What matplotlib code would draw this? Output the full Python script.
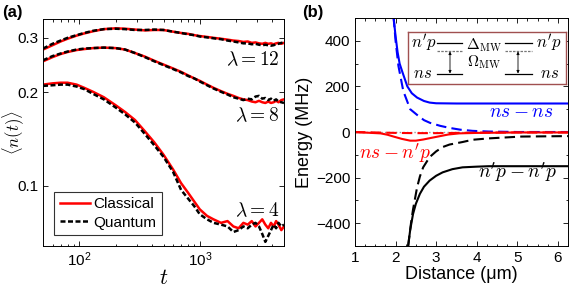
import numpy as np
import matplotlib
matplotlib.use("Agg")
import matplotlib.pyplot as plt

plt.rcParams['font.family'] = ['Liberation Sans', 'DejaVu Sans']
plt.rcParams['mathtext.fontset'] = 'cm'

# panel (a): <n(t)> vs t
t = [50, 60, 70, 80, 95, 110, 130, 160, 200, 240, 290, 350, 420, 500, 600, 700, 800, 900, 1000,
     1150, 1300, 1500, 1700, 1900, 2100, 2300, 2500, 2700, 2900, 3100, 3300, 3500, 3700, 3900,
     4100, 4300, 4500, 4750, 5000]
cl12 = [0.275, 0.284, 0.292, 0.298, 0.305, 0.310, 0.315, 0.320, 0.322, 0.321, 0.319, 0.317, 0.318,
        0.318, 0.314, 0.311, 0.309, 0.306, 0.304, 0.302, 0.300, 0.298, 0.296, 0.294, 0.293, 0.291,
        0.292, 0.289, 0.290, 0.288, 0.287, 0.289, 0.287, 0.288, 0.286, 0.288, 0.289, 0.287, 0.289]
qu12 = [0.277, 0.287, 0.294, 0.300, 0.306, 0.311, 0.316, 0.320, 0.321, 0.320, 0.318, 0.318, 0.319,
        0.318, 0.314, 0.311, 0.308, 0.306, 0.303, 0.301, 0.299, 0.297, 0.294, 0.292, 0.290, 0.288,
        0.288, 0.286, 0.287, 0.285, 0.284, 0.285, 0.284, 0.283, 0.284, 0.286, 0.287, 0.289, 0.290]
cl8 = [0.252, 0.260, 0.266, 0.270, 0.274, 0.276, 0.278, 0.279, 0.278, 0.275, 0.268, 0.261, 0.253,
       0.246, 0.239, 0.233, 0.227, 0.222, 0.218, 0.212, 0.207, 0.202, 0.198, 0.195, 0.192, 0.190,
       0.189, 0.187, 0.186, 0.188, 0.186, 0.185, 0.187, 0.185, 0.186, 0.188, 0.186, 0.189, 0.190]
qu8 = [0.254, 0.262, 0.267, 0.271, 0.275, 0.277, 0.278, 0.279, 0.278, 0.275, 0.268, 0.260, 0.252,
       0.245, 0.238, 0.232, 0.226, 0.222, 0.217, 0.211, 0.206, 0.201, 0.197, 0.193, 0.191, 0.189,
       0.191, 0.190, 0.194, 0.195, 0.191, 0.192, 0.189, 0.191, 0.188, 0.190, 0.187, 0.186, 0.185]
cl4 = [0.212, 0.214, 0.215, 0.215, 0.212, 0.207, 0.201, 0.193, 0.182, 0.173, 0.163, 0.150, 0.138,
       0.126, 0.113, 0.102, 0.095, 0.089, 0.084, 0.080, 0.078, 0.076, 0.077, 0.074, 0.073, 0.076,
       0.075, 0.077, 0.074, 0.076, 0.078, 0.075, 0.073, 0.076, 0.074, 0.077, 0.075, 0.072, 0.074]
qu4 = [0.210, 0.211, 0.212, 0.212, 0.209, 0.205, 0.198, 0.190, 0.179, 0.170, 0.160, 0.147, 0.135,
       0.124, 0.111, 0.097, 0.091, 0.086, 0.081, 0.078, 0.076, 0.075, 0.074, 0.071, 0.072, 0.074,
       0.073, 0.075, 0.076, 0.074, 0.070, 0.066, 0.069, 0.072, 0.075, 0.073, 0.076, 0.074, 0.075]
lam_labels = [r'$\lambda = 12$', r'$\lambda = 8$', r'$\lambda = 4$']
lam_pos = [0.255, 0.168, 0.083]

# panel (b): pair potentials
d_ss = [1.95, 2.0, 2.05, 2.1, 2.17, 2.29, 2.4, 2.53, 2.7, 2.84, 3.0, 3.5, 4.0, 5.0, 6.25]
E_ss = [505, 420, 350, 300, 262, 200, 170, 151, 136, 129, 126, 125, 125, 125, 125]
d_ss0 = [1.95, 2.0, 2.07, 2.19, 2.36, 2.53, 2.7, 2.85, 3.1, 3.33, 3.6, 3.9, 4.3, 5.0, 6.25]
E_ss0 = [505, 400, 290, 180, 100, 75, 52, 40, 27, 18, 10, 5, 2, 0, 0]
d_pp = [2.31, 2.36, 2.43, 2.5, 2.6, 2.7, 2.84, 3.0, 3.16, 3.4, 3.65, 4.0, 4.3, 5.0, 6.25]
E_pp = [-500, -430, -360, -315, -271, -240, -213, -192, -177, -163, -155, -152, -150, -150, -150]
d_pp0 = [2.31, 2.38, 2.43, 2.53, 2.6, 2.68, 2.84, 3.0, 3.16, 3.33, 3.65, 3.9, 4.3, 5.1, 6.25]
E_pp0 = [-500, -400, -340, -243, -195, -155, -110, -85, -66, -55, -44, -34, -28, -20, -18]
d_sp = [1.0, 1.3, 1.63, 1.8, 1.95, 2.15, 2.36, 2.5, 2.68, 2.9, 3.1, 3.3, 3.57, 4.0, 4.5, 5.0, 6.25]
E_sp = [-1, -3, -6, -12, -20, -30, -38, -38, -33, -25, -18, -11, -6, -4, -3, -2, -2]
d_sp0 = [1.0, 1.5, 2.0, 2.5, 3.0, 3.5, 4.0, 5.0, 6.25]
E_sp0 = [0, -2, -4, -5, -5, -4, -3, -2, -2]

W, H = 581, 288
fig = plt.figure(figsize=(W / 100, H / 100), dpi=100)

def tick_style(ax):
    ax.tick_params(which='both', direction='in', top=True, right=True, labelsize=11, width=0.6)
    ax.tick_params(which='major', length=3.5)
    ax.tick_params(which='minor', length=1.8)
    for s in ax.spines.values():
        s.set_linewidth(0.7)

# ---- (a)
ax = fig.add_axes([43 / W, 42 / H, 241 / W, 227 / H])
red_kw = dict(color='#ff0000', lw=1.8)
blk_kw = dict(color='black', lw=1.8, ls=(0, (2, 1)))
ax.plot(t, cl12, **red_kw, label='Classical')
ax.plot(t, qu12, **blk_kw, label='Quantum')
ax.plot(t, cl8, **red_kw)
ax.plot(t, qu8, **blk_kw)
ax.plot(t, cl4, **red_kw)
ax.plot(t, qu4, **blk_kw)
ax.set_xscale('log')
ax.set_yscale('log')
ax.set_xlim(50, 5000)
ax.set_ylim(0.064, 0.345)
ax.set_yticks([0.1, 0.2, 0.3])
ax.set_yticklabels(['0.1', '0.2', '0.3'])
ax.yaxis.set_minor_locator(matplotlib.ticker.NullLocator())
tick_style(ax)
for lab, yv in zip(lam_labels, lam_pos):
    ax.text(4600, yv, lab, ha='right', va='center', fontsize=14)
ax.set_xlabel('$t$', fontsize=16, labelpad=-1)
ax.set_ylabel(r'$\langle n(t)\rangle$', fontsize=12)
ax.yaxis.set_label_coords(-0.07, 0.5)
leg = ax.legend(loc='lower left', bbox_to_anchor=(0.015, 0.015), fontsize=11, frameon=True,
                fancybox=False, handlelength=2.0, handletextpad=0.2, borderpad=0.35,
                labelspacing=0.3)
leg.get_frame().set_edgecolor('black')
leg.get_frame().set_linewidth(0.8)

# ---- (b)
bx = fig.add_axes([355 / W, 42 / H, 213 / W, 228 / H])
bx.axhline(0, color='#999999', lw=1.0, ls=':')
dash = (0, (5, 2.5))
bx.plot(d_ss0, E_ss0, color='#0000ff', lw=1.5, ls=dash)
bx.plot(d_pp0, E_pp0, color='black', lw=1.5, ls=dash)
bx.plot(d_sp0, E_sp0, color='#ff0000', lw=1.5, ls=dash)
bx.plot(d_ss, E_ss, color='#0000ff', lw=1.5)
bx.plot(d_pp, E_pp, color='black', lw=1.5)
bx.plot(d_sp, E_sp, color='#ff0000', lw=1.5)
bx.set_xlim(1, 6.25)
bx.set_ylim(-500, 500)
bx.set_xticks([1, 2, 3, 4, 5, 6])
bx.set_yticks([-400, -200, 0, 200, 400])
bx.xaxis.set_minor_locator(matplotlib.ticker.MultipleLocator(0.25))
bx.yaxis.set_minor_locator(matplotlib.ticker.MultipleLocator(100))
tick_style(bx)
bx.set_xlabel('Distance (μm)', fontsize=13, labelpad=1)
bx.set_ylabel('Energy (MHz)', fontsize=13, labelpad=2)
bx.text(5.9, 84, '$ns - ns$', color='#0000ff', ha='right', va='center', fontsize=14)
bx.text(1.1, -93, "$ns - n'p$", color='#ff0000', ha='left', va='center', fontsize=14)
bx.text(5.98, -177, "$n'p - n'p$", color='black', ha='right', va='center', fontsize=14)

# level scheme inset (pixel coordinates)
ix = fig.add_axes([408 / W, 1 - 84 / H, 158 / W, 52 / H])
ix.set_xlim(408, 566)
ix.set_ylim(84, 32)
ix.set_xticks([])
ix.set_yticks([])
for s in ix.spines.values():
    s.set_edgecolor('#a05050')
    s.set_linewidth(1.0)
lev_x = [[437, 462], [505, 532]]
arrow_x = [450, 518]
for xs, xa in zip(lev_x, arrow_x):
    ix.plot(xs, [43, 43], color='black', lw=0.9)
    ix.plot(xs, [51, 51], color='#777777', lw=0.9, ls=(0, (2, 1)))
    ix.plot(xs, [74, 74], color='black', lw=0.9)
    ix.annotate('', xy=(xa, 73.5), xytext=(xa, 51.5),
                arrowprops=dict(arrowstyle='<|-|>', lw=0.6, mutation_scale=4, color='black',
                                shrinkA=0, shrinkB=0))
ix.text(424, 43, "$n'p$", ha='center', va='center', fontsize=12)
ix.text(549, 43, "$n'p$", ha='center', va='center', fontsize=12)
ix.text(423, 73, "$ns$", ha='center', va='center', fontsize=12)
ix.text(550, 73, "$ns$", ha='center', va='center', fontsize=12)
ix.text(484, 45, r"$\Delta_{\rm MW}$", ha='center', va='center', fontsize=11)
ix.text(484, 62, r"$\Omega_{\rm MW}$", ha='center', va='center', fontsize=11)

fig.text(2 / W, 1 - 12 / H, '(a)', fontsize=12, fontweight='bold', va='center')
fig.text(302 / W, 1 - 13 / H, '(b)', fontsize=12, fontweight='bold', va='center')

fig.savefig('out.png', dpi=100)
